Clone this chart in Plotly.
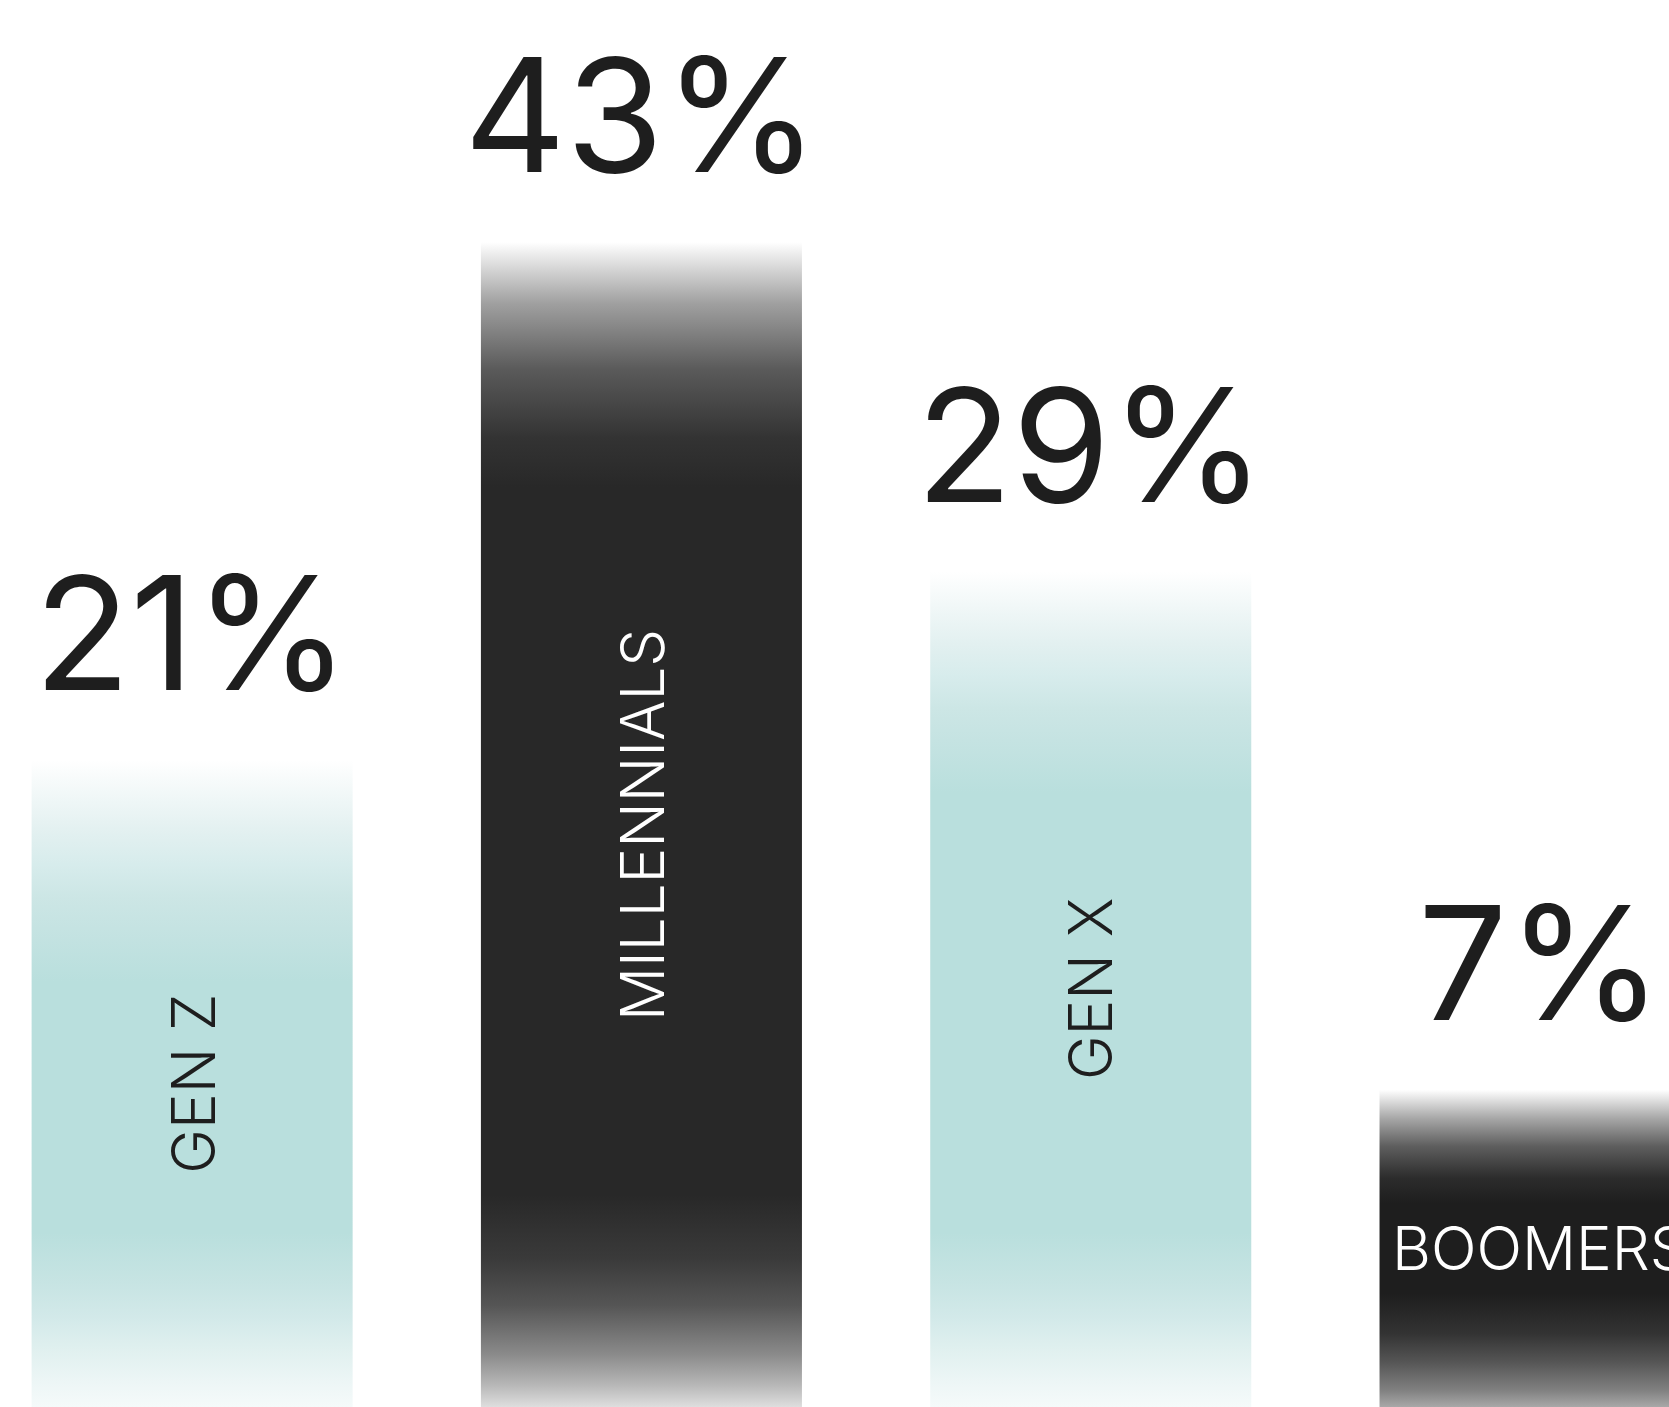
import plotly.graph_objects as go

# ---- data ----
categories = ["GEN Z", "MILLENNIALS", "GEN X", "BOOMERS"]
values = [21, 43, 29, 7]
value_labels = ["21%", "43%", "29%", "7%"]

# ---- style ----
TEAL = "#b9dfdd"
DARK = "#282828"
INK = "#1e1e1e"
NUM_FONT = "Inter, Liberation Sans, sans-serif"
CAT_FONT = "Inter, Liberation Sans, sans-serif"
bar_styles = ["teal", "dark", "teal", "boomer"]

# fade profiles: top lists go from bar top (0) to solid edge (1);
# bottom lists go from solid edge (0) to the bottom of the chart (1)
TEAL_TOP = [(0, "#ffffff"), (0.19, "#eef6f6"), (0.33, "#e2f0f0"), (0.47, "#d7ecec"),
            (0.62, "#cce6e5"), (0.76, "#c5e3e2"), (1.0, TEAL)]
TEAL_BOTTOM = [(0, TEAL), (0.29, "#c7e4e3"), (0.48, "#d2e9e9"), (0.67, "#e0f0ef"),
               (0.86, "#edf6f6"), (1.0, "#f5fafa")]
DARK_TOP = [(0, "#ffffff"), (0.25, "#a0a0a0"), (0.52, "#5a5a5a"), (0.8, "#333333"), (1.0, DARK)]
DARK_BOTTOM = [(0, DARK), (0.3, "#3a3a3a"), (0.52, "#555555"), (0.75, "#8a8a8a"),
               (0.89, "#b5b5b5"), (1.0, "#dedede")]
BOOM_TOP = [(0, "#ffffff"), (0.25, "#a8a8a8"), (0.5, "#5e5e5e"), (0.78, "#2c2c2c"), (1.0, "#1e1e1e")]
BOOM_BOTTOM = [(0, "#1e1e1e"), (0.35, "#333333"), (0.6, "#555555"), (0.85, "#808080"), (1.0, "#a8a8a8")]

PROFILES = {
    "teal": (TEAL_TOP, TEAL_BOTTOM),
    "dark": (DARK_TOP, DARK_BOTTOM),
    "boomer": (BOOM_TOP, BOOM_BOTTOM),
}
# fade lengths in axis units (top, bottom)
FADES = {"teal": (9.4, 7.4), "dark": (10.4, 9.0), "boomer": (4.8, 4.8)}
TEXT_COLORS = {"teal": INK, "dark": "#ffffff", "boomer": "#ffffff"}

Y_MIN, Y_MAX = -6.47, 53.28
X_MIN, X_MAX = -0.4276, 3.287
BAR_W = 0.7145


def colorscale(v, style):
    top, bottom = PROFILES[style]
    t, b = FADES[style]
    L = v - Y_MIN
    stops = []
    for d, c in reversed(bottom):
        stops.append((b * (1 - d) / L, c))
    for d, c in reversed(top):
        stops.append((1 - t * d / L, c))
    stops.sort(key=lambda s: s[0])
    out = []
    last = -1
    for p, c in stops:
        p = min(max(p, 0), 1)
        if p <= last:
            p = last + 1e-6
        out.append([p, c])
        last = p
    out[-1][0] = 1.0
    out[0][0] = 0.0
    return out


fig = go.Figure()
for i, (cat, v, style) in enumerate(zip(categories, values, bar_styles)):
    x0, x1 = i - BAR_W / 2, i + BAR_W / 2
    fig.add_trace(go.Scatter(
        x=[x0, x1, x1, x0, x0],
        y=[Y_MIN, Y_MIN, v, v, Y_MIN],
        mode="lines",
        line=dict(width=0, color="rgba(0,0,0,0)"),
        fill="toself",
        fillgradient=dict(type="vertical", colorscale=colorscale(v, style),
                          start=Y_MIN, stop=v),
        hoverinfo="skip",
        showlegend=False,
    ))

annotations = []
for i, (cat, v, lab, style) in enumerate(zip(categories, values, value_labels, bar_styles)):
    annotations.append(dict(
        x=i, y=v, xref="x", yref="y", text=lab, showarrow=False,
        xanchor="center", yanchor="bottom", yshift=30,
        font=dict(family=NUM_FONT, size=158, color=INK, weight=400),
    ))
    annotations.append(dict(
        x=i, y=(v + Y_MIN) / 2, xref="x", yref="y", text=cat, showarrow=False,
        xanchor="center", yanchor="middle",
        textangle=0 if style == "boomer" else -90,
        font=dict(family=CAT_FONT, size=60, color=TEXT_COLORS[style], weight=300),
    ))

fig.update_layout(
    width=1669, height=1407,
    margin=dict(l=0, r=0, t=0, b=0),
    paper_bgcolor="white", plot_bgcolor="white",
    xaxis=dict(range=[X_MIN, X_MAX], visible=False, fixedrange=True),
    yaxis=dict(range=[Y_MIN, Y_MAX], visible=False, fixedrange=True),
    annotations=annotations,
    showlegend=False,
)

fig.write_html("out.html", config=dict(displayModeBar=False),
               post_script="document.body.style.margin='0';document.body.style.overflow='hidden';")
